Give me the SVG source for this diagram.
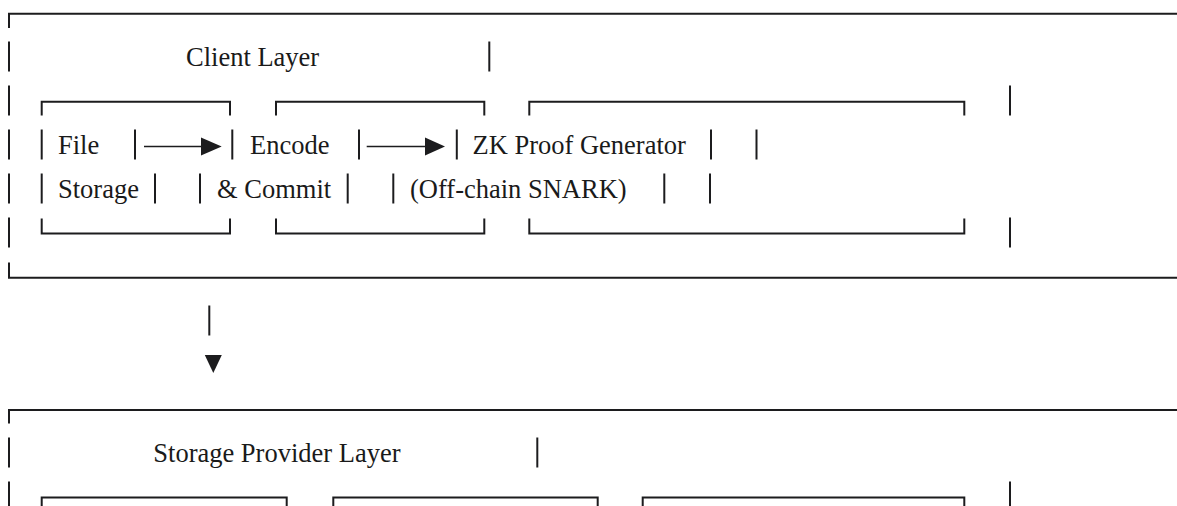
<svg xmlns="http://www.w3.org/2000/svg" width="1177" height="506" viewBox="0 0 1177 506">
<style>
.ln{fill:none;stroke:#1c1c1e;stroke-width:2;stroke-linecap:butt}
.ar{fill:none;stroke:#1c1c1e;stroke-width:1.6}
.hd{fill:#1c1c1e}
.t{font-family:"Liberation Serif","Times New Roman",serif;font-size:26.5px;fill:#1a1a1a}
</style>
<rect width="1177" height="506" fill="#fff"/>

<g id="client-layer">
  <path class="ln" d="M9,28 V13.8 H1177"/>
  <path class="ln" d="M9,41.5 V71.5 M9,85.5 V115.5 M9,129.5 V159.5 M9,173.5 V203.5 M9,217.5 V247.5"/>
  <path class="ln" d="M9,262.5 V277.7 H1177"/>
  <path class="ln" d="M489.3,41.5 V71.5"/>
  <path class="ln" d="M1010,85.5 V115.5 M1010,217.5 V247.5"/>
  <path class="ln" d="M711,129.5 V159.5 M756.5,129.5 V159.5 M664.3,173.5 V203.5 M710,173.5 V203.5"/>
  <text class="t" x="186" y="65.7">Client Layer</text>
</g>

<g id="file-storage">
  <path class="ln" d="M41.7,115.5 V101.7 H230 V115.5"/>
  <path class="ln" d="M41.7,129.5 V159.5 M135,129.5 V159.5"/>
  <path class="ln" d="M41.7,173.5 V203.5 M155,173.5 V203.5"/>
  <path class="ln" d="M41.7,218.5 V233.5 H230 V218.5"/>
  <text class="t" x="58" y="153.8">File</text>
  <text class="t" x="58" y="197.7">Storage</text>
</g>

<g id="encode-commit">
  <path class="ln" d="M276,115.5 V101.7 H484.3 V115.5"/>
  <path class="ln" d="M232.3,129.5 V159.5 M359,129.5 V159.5"/>
  <path class="ln" d="M200,173.5 V203.5 M347.7,173.5 V203.5"/>
  <path class="ln" d="M276,218.5 V233.5 H484.3 V218.5"/>
  <text class="t" x="250" y="153.8">Encode</text>
  <text class="t" x="217" y="197.7">&amp; Commit</text>
</g>

<g id="zk-proof-generator">
  <path class="ln" d="M529.3,115.5 V101.7 H964.3 V115.5"/>
  <path class="ln" d="M456.8,129.5 V159.5"/>
  <path class="ln" d="M393.3,173.5 V203.5"/>
  <path class="ln" d="M529.3,218.5 V233.5 H964.3 V218.5"/>
  <text class="t" x="472.5" y="153.8">ZK Proof Generator</text>
  <text class="t" x="410" y="197.7">(Off-chain SNARK)</text>
</g>

<g id="connectors">
  <path class="ar" d="M144,146.5 H203"/>
  <polygon class="hd" points="201,137.5 221.7,146.5 201,155.5"/>
  <path class="ar" d="M366.7,146.5 H427"/>
  <polygon class="hd" points="425,137.5 445,146.5 425,155.5"/>
  <path class="ln" d="M209.3,305.5 V335.5"/>
  <polygon class="hd" points="204.8,355 221.8,355 213.3,373"/>
</g>

<g id="storage-provider-layer">
  <path class="ln" d="M9,423.5 V410 H1177"/>
  <path class="ln" d="M9,437.5 V467.5 M9,481.5 V506"/>
  <path class="ln" d="M537.3,437.5 V467.5"/>
  <path class="ln" d="M1010,481.5 V506"/>
  <text class="t" x="153.3" y="461.7">Storage Provider Layer</text>
</g>

<g id="sp-box-1">
  <path class="ln" d="M41.7,506 V497.6 H286.7 V506"/>
</g>
<g id="sp-box-2">
  <path class="ln" d="M333.3,506 V497.6 H597.7 V506"/>
</g>
<g id="sp-box-3">
  <path class="ln" d="M642.7,506 V497.6 H964.3 V506"/>
</g>
</svg>
